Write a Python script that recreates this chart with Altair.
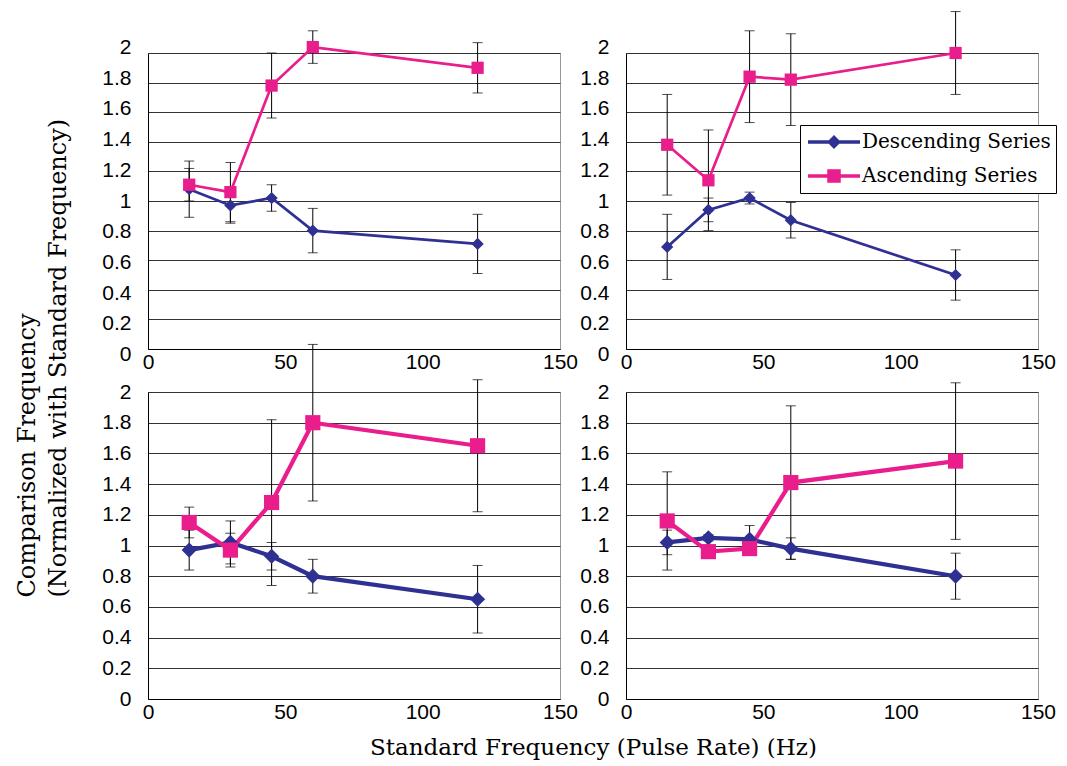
import altair as alt
import pandas as pd

freqs = [15, 30, 45, 60, 120]
series_names = ["Descending Series", "Ascending Series"]
series_colors = ["#2E3192", "#E91E8C"]
y_ticks = [0, 0.2, 0.4, 0.6, 0.8, 1.0, 1.2, 1.4, 1.6, 1.8, 2.0]
x_ticks = [0, 50, 100, 150]

# Panel A (top-left)
desc_a = [1.08, 0.97, 1.02, 0.80, 0.71]
desc_a_err = [0.19, 0.12, 0.09, 0.15, 0.20]
asc_a = [1.11, 1.06, 1.78, 2.04, 1.90]
asc_a_err = [0.11, 0.20, 0.22, 0.11, 0.17]

# Panel B (top-right)
desc_b = [0.69, 0.94, 1.02, 0.87, 0.50]
desc_b_err = [0.22, 0.08, 0.04, 0.12, 0.17]
asc_b = [1.38, 1.14, 1.84, 1.82, 2.00]
asc_b_err = [0.34, 0.34, 0.31, 0.31, 0.28]

# Panel C (bottom-left)
desc_c = [0.97, 1.02, 0.93, 0.80, 0.65]
desc_c_err = [0.13, 0.14, 0.09, 0.11, 0.22]
asc_c = [1.15, 0.97, 1.28, 1.80, 1.65]
asc_c_err = [0.10, 0.11, 0.54, 0.51, 0.43]

# Panel D (bottom-right)
desc_d = [1.02, 1.05, 1.04, 0.98, 0.80]
desc_d_err = [0.08, 0.02, 0.09, 0.07, 0.15]
asc_d = [1.16, 0.96, 0.98, 1.41, 1.55]
asc_d_err = [0.32, 0.02, 0.02, 0.50, 0.51]

panels = {
    "A": (desc_a, desc_a_err, asc_a, asc_a_err),
    "B": (desc_b, desc_b_err, asc_b, asc_b_err),
    "C": (desc_c, desc_c_err, asc_c, asc_c_err),
    "D": (desc_d, desc_d_err, asc_d, asc_d_err),
}

rows = []
for pid, (d, de, a, ae) in panels.items():
    for i, f in enumerate(freqs):
        rows.append(dict(panel=pid, series=series_names[0], x=f, y=d[i], err=de[i]))
    for i, f in enumerate(freqs):
        rows.append(dict(panel=pid, series=series_names[1], x=f, y=a[i], err=ae[i]))
df = pd.DataFrame(rows)

TICK_FONT = "Liberation Sans"
SERIF = "DejaVu Serif"

desc_path = "M-2.6,0H2.6M-0.45,0L0,-0.45L0.45,0L0,0.45Z"
asc_path = "M-2.6,0H2.6M-0.5,-0.5H0.5V0.5H-0.5Z"

legend_obj = alt.Legend(
    orient="none", legendX=174, legendY=72, title=None,
    symbolSize=400, symbolStrokeWidth=3.5, symbolOffset=17, symbolOpacity=1,
    labelOffset=16, labelFont=SERIF, labelFontSize=20, labelColor="black",
    labelLimit=400, rowPadding=10, padding=5, strokeColor="black", fillColor="white",
    cornerRadius=0,
)


def panel_chart(pid, w, h, line_w, pt_size, legend=False, xtitle=False, ytitle=False,
                spread=0.0):
    base = alt.Chart(df).transform_filter(alt.datum.panel == pid)
    xscale = alt.Scale(domain=[0, 150], nice=False, zero=False)
    yscale = alt.Scale(domain=[0, 2], nice=False)
    xaxis_kw = dict(values=x_ticks, grid=False, tickSize=0, labelFlush=False,
                    labelFont=TICK_FONT, labelFontSize=21, labelColor="black",
                    labelPadding=2, domainColor="black", labelOverlap=False)
    if xtitle:
        xaxis_kw.update(title="Standard Frequency (Pulse Rate) (Hz)", titleFont=SERIF,
                        titleFontSize=23, titleFontWeight="normal", titleColor="black",
                        titleX=445, titleY=55, titleAlign="center", titleBaseline="alphabetic",
                        titleAnchor="start")
    else:
        xaxis_kw.update(title=None)
    yaxis_kw = dict(values=y_ticks, format=".1~f", grid=True, gridColor="#333333",
                    tickSize=0, labelFont=TICK_FONT, labelFontSize=21, labelColor="black",
                    labelPadding=17, domainColor="black", labelOverlap=False, labelFlush=False)
    if spread:
        yaxis_kw.update(labelOffset={"expr": "(1 - datum.value) * %s" % spread})
    if ytitle:
        yaxis_kw.update(title=["Comparison Frequency", "(Normalized with Standard Frequency)"],
                        titleFont=SERIF, titleFontSize=24, titleFontWeight="normal",
                        titleColor="black", titleAngle=270, titleX=-114, titleY=544,
                        titleAlign="left", titleBaseline="alphabetic", titleLineHeight=31,
                        titleAnchor="start")
    else:
        yaxis_kw.update(title=None)
    X = lambda f: alt.X(f, scale=xscale, axis=alt.Axis(**xaxis_kw))
    Y = lambda f: alt.Y(f, scale=yscale, axis=alt.Axis(**yaxis_kw))
    cscale = alt.Scale(domain=series_names, range=series_colors)
    leg = legend_obj if legend else None
    col = alt.Color("series:N", scale=cscale, legend=leg)

    with_ext = base.transform_calculate(lo="datum.y - datum.err", hi="datum.y + datum.err")
    rules = with_ext.mark_rule(color="black", strokeWidth=1).encode(
        x=X("x:Q"), y=Y("lo:Q"), y2="hi:Q")
    caps = with_ext.transform_fold(["lo", "hi"], as_=["k", "v"]).mark_tick(
        color="black", orient="horizontal", size=10, thickness=1).encode(
        x=X("x:Q"), y=Y("v:Q"))
    line = base.mark_line(strokeWidth=line_w).encode(x=X("x:Q"), y=Y("y:Q"), color=col)
    pts_d = base.transform_filter(alt.datum.series == series_names[0]).mark_point(
        filled=True, shape="diamond", size=pt_size, opacity=1).encode(
        x=X("x:Q"), y=Y("y:Q"), color=col)
    pts_a = base.transform_filter(alt.datum.series == series_names[1]).mark_point(
        filled=True, shape="square", size=pt_size, opacity=1).encode(
        x=X("x:Q"), y=Y("y:Q"), color=col)
    layers = [rules, caps, line, pts_d, pts_a]
    if legend:
        leg_layer = base.transform_filter("datum.x < 0").mark_point(filled=True, opacity=1).encode(
            x=X("x:Q"), y=Y("y:Q"), color=col,
            stroke=alt.Stroke("series:N", scale=alt.Scale(domain=series_names, range=series_colors), legend=leg),
            shape=alt.Shape("series:N", scale=alt.Scale(domain=series_names, range=[desc_path, asc_path]), legend=leg))
        layers.append(leg_layer)
    return alt.layer(*layers).properties(width=w, height=h)


A = panel_chart("A", 412, 296, 2.7, 150, ytitle=True, spread=5.5)
B = panel_chart("B", 412, 296, 2.7, 150, legend=True, spread=5.5)
C = panel_chart("C", 412, 307, 4.2, 230, xtitle=True)
D = panel_chart("D", 412, 307, 4.2, 230)

ind = dict(color="independent", shape="independent", stroke="independent")
chart = alt.concat(A, B, C, D, columns=2, spacing={"row": 43, "column": 66},
                   bounds="flush").resolve_scale(**ind).resolve_legend(**ind).properties(
    padding={"left": 6, "top": 2, "right": 0, "bottom": 0}, background="white"
).configure_view(stroke="#999999", strokeWidth=1)

chart.save("out.html", embed_options={"renderer": "svg", "actions": False})
